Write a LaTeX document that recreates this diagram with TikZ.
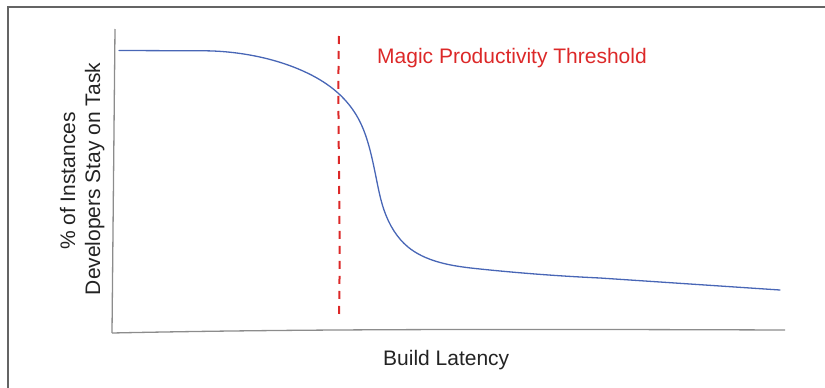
\documentclass[tikz,border=0pt]{standalone}
\usepackage{fontspec}
\setmainfont{Liberation Sans}
\usetikzlibrary{hobby}
\definecolor{framegray}{RGB}{100,100,100}
\definecolor{axisgray}{RGB}{140,140,140}
\definecolor{curveblue}{RGB}{72,102,182}
\definecolor{magicred}{RGB}{220,40,40}
\definecolor{labeltext}{RGB}{35,35,35}
\tikzset{
  lbl/.style={font=\fontsize{21}{25}\selectfont, inner sep=0pt, text=labeltext},
  axisline/.style={draw=axisgray, line width=1.3pt},
  threshold/.style={draw=magicred, line width=2pt, dash pattern=on 8pt off 7pt},
  curveline/.style={draw=curveblue, line width=1.3pt, line cap=round, line join=round}
}
\begin{document}
\begin{tikzpicture}[x=1pt,y=-1pt]
\useasboundingbox (0,0) rectangle (825,388);
\begin{scope}
\clip (0,0) rectangle (825,388);
\draw[draw=framegray, line width=2pt] (7.8,6.6) rectangle (850,410);
\end{scope}
% axes
\coordinate (yaxtop) at (115,29);
\coordinate (origin) at (112,333);
\coordinate (xaxend) at (785,330);
\draw[axisline] (yaxtop) -- (origin);
\draw[axisline] (origin) .. controls (300,329) and (500,329) .. (xaxend);
% threshold
\coordinate (thtop) at (339,36);
\coordinate (thbot) at (339,316);
\draw[threshold] (thtop) .. controls (337,120) and (341,220) .. (thbot);
% curve
\coordinate (c0) at (119,50.5);
\coordinate (c1) at (200,50.8);
\draw[curveline] (c0) -- (c1)
  to[curve through={(255,56) (303,71) (338,93) (358,118) (370,150) (377,182) (384,210) (394,231) (408,247) (432,260) (480,269)}] (600,278)
  -- (780,290);
% labels
\node[lbl, text=magicred, anchor=base west] (magic) at (377,63) {Magic Productivity Threshold};
\node[lbl, anchor=base west] (xlabel) at (383,365) {Build Latency};
\node[lbl, rotate=90, anchor=base] (ylab1) at (75,181) {\% of Instances};
\node[lbl, rotate=90, anchor=base] (ylab2) at (100,179) {Developers Stay on Task};
\end{tikzpicture}
\end{document}
